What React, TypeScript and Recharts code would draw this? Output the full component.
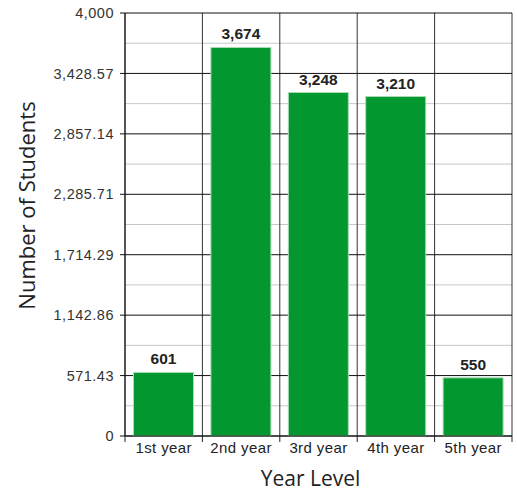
import React from 'react';
import { BarChart, Bar, XAxis, YAxis, CartesianGrid, LabelList, Label } from 'recharts';

const categories = ['1st year', '2nd year', '3rd year', '4th year', '5th year'];
const students = [601, 3674, 3248, 3210, 550];
const yTicks = [0, 571.43, 1142.86, 1714.29, 2285.71, 2857.14, 3428.57, 4000];
const minorTicks = [285.71, 857.14, 1428.57, 2000, 2571.43, 3142.86, 3714.29];

const data = categories.map((c, i) => ({ name: c, value: students[i] }));

const fmt = (v: number) =>
  v.toLocaleString('en-US', { minimumFractionDigits: 0, maximumFractionDigits: 2 });

const XTick = (props: any) => {
  const { x, y, payload, index } = props;
  const off = payload.offset || 0;
  const axisY = y - 8;
  return (
    <g>
      <line x1={x - off} x2={x - off} y1={axisY} y2={axisY + 6} stroke="#222" />
      {index === categories.length - 1 && (
        <line x1={x + off} x2={x + off} y1={axisY} y2={axisY + 6} stroke="#222" />
      )}
      <text x={x} y={axisY + 17} textAnchor="middle" fontSize={15} letterSpacing={0.4} fill="#222" fontFamily="Liberation Sans, Arial, sans-serif">
        {payload.value}
      </text>
    </g>
  );
};

const verticalGen = ({ offset }: any) =>
  categories.map((_, i) => offset.left + (i * offset.width) / categories.length).concat(offset.left + offset.width);

const YTitle = (props: any) => {
  const vb = props.viewBox || {};
  const cx = (vb.x || 0) + 26;
  const cy = (vb.y || 0) + (vb.height || 0) / 2 - 19;
  return (
    <text x={cx} y={cy} transform={`rotate(-90 ${cx} ${cy})`} textAnchor="middle" dominantBaseline="central" fontSize={22} fill="#222" fontFamily="Open Sans, sans-serif">
      Number of Students
    </text>
  );
};

const XTitle = (props: any) => {
  const vb = props.viewBox || {};
  const cx = (vb.x || 0) + (vb.width || 0) / 2 - 8;
  const cy = (vb.y || 0) + 50;
  return (
    <text x={cx} y={cy} textAnchor="middle" fontSize={21} fill="#222" fontFamily="Open Sans, sans-serif">
      Year Level
    </text>
  );
};

export default function App() {
  return (
    <div style={{ position: 'absolute', left: 0, top: 0 }}>
      <BarChart
        width={517}
        height={491}
        data={data}
        margin={{ top: 13, right: 5, bottom: 0, left: 0 }}
        barCategoryGap="11%"
      >
        <CartesianGrid horizontalValues={minorTicks} vertical={false} stroke="#c8c8c8" />
        <CartesianGrid verticalCoordinatesGenerator={verticalGen} horizontal={false} stroke="#333" />
        <CartesianGrid horizontalValues={yTicks} vertical={false} stroke="#111" />
        <XAxis
          dataKey="name"
          height={55}
          axisLine={{ stroke: '#111' }}
          tickLine={false}
          tick={<XTick />}
          interval={0}
        >
          <Label content={<XTitle />} />
        </XAxis>
        <YAxis
          width={125}
          domain={[0, 4000]}
          ticks={yTicks}
          tickFormatter={fmt}
          axisLine={{ stroke: '#111' }}
          tickLine={{ stroke: '#111' }}
          tickSize={5}
          tickMargin={6}
          tick={{ fontSize: 14.5, letterSpacing: 0.5, fill: '#333', fontFamily: 'Liberation Sans, Arial, sans-serif' }}
          interval={0}
        >
          <Label content={<YTitle />} />
        </YAxis>
        <Bar dataKey="value" fill="#03972f" stroke="#a9dcb3" strokeWidth={1} isAnimationActive={false}>
          <LabelList dataKey="value" position="top" offset={8} formatter={(v: any) => fmt(Number(v))} style={{ fontSize: 15.5, fontWeight: 'bold', fill: '#222', fontFamily: 'Liberation Sans, Arial, sans-serif' }} />
        </Bar>
      </BarChart>
    </div>
  );
}
